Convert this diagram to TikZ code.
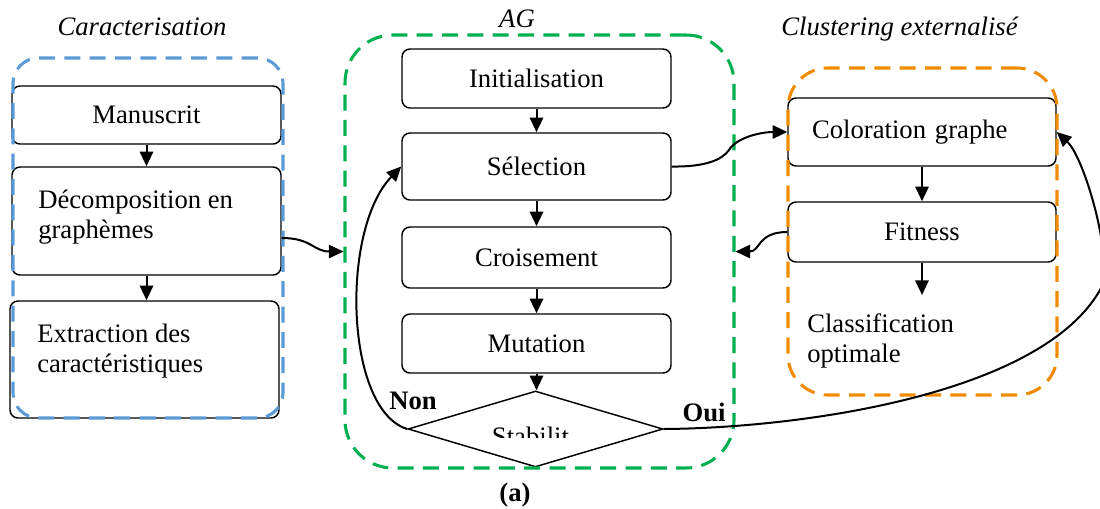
\documentclass[tikz,border=0pt]{standalone}
\usepackage{fontspec}
\setmainfont{Liberation Serif}
\usetikzlibrary{shapes.geometric,arrows.meta}
\definecolor{blueG}{HTML}{5B9BD5}
\definecolor{greenG}{HTML}{00B050}
\definecolor{orangeG}{HTML}{F08A00}
\begin{document}
\begin{tikzpicture}[x=0.75pt,y=-0.75pt,
  font=\fontsize{20pt}{22.5pt}\selectfont,
  sz/.style 2 args={minimum width=#1*0.75pt,minimum height=#2*0.75pt},
  box/.style={draw,line width=1.1pt,rounded corners=6pt,inner sep=0pt},
  conn/.style={line width=1.5pt,-{Triangle[length=11pt,width=10pt]}},
  grp/.style={line width=2.3pt,dash pattern=on 12pt off 7pt,inner sep=0pt},
  txt/.style={inner sep=0pt},
  ]
\clip (0,0) rectangle (1100,508);
% titles
\node[txt,anchor=base] (t1) at (142,35) {\textit{Caracterisation}};
\node[txt,anchor=base] (t2) at (517,27) {\textit{AG}};
\node[txt,anchor=base] (t3) at (900,35) {\textit{Clustering externalisé}};
% left column
\node[box,sz={269}{58}] (man) at (146.5,115) {Manuscrit};
\node[box,sz={269}{108}] (dec) at (146.5,221) {};
\node[txt,anchor=west,align=left] (decT) at (38,217) {Décomposition en\\graphèmes};
\node[box,sz={269}{117}] (ext) at (144.5,359.5) {};
\node[txt,anchor=west,align=left] (extT) at (37,351) {Extraction des\\caractéristiques};
% middle column
\node[box,sz={269}{59}] (init) at (536.5,78.5) {Initialisation};
\node[box,sz={269}{67}] (sel) at (536.5,166.5) {Sélection};
\node[box,sz={269}{61}] (cro) at (536.5,257.5) {Croisement};
\node[box,sz={269}{59}] (mut) at (536.5,343.5) {Mutation};
\node[draw,diamond,line width=1.1pt,inner sep=0pt,sz={255}{76}] (stab) at (535.5,429) {};
\begin{scope}
\clip (470,420) rectangle (600,437);
\node[txt,anchor=base] (stabT) at (530.5,445.5) {Stabilit};
\end{scope}
\node[txt,anchor=base] (non) at (413,409) {\textbf{Non}};
\node[txt,anchor=base] (oui) at (704,421) {\textbf{Oui}};
\node[txt,anchor=base] (cap) at (515,501) {\textbf{(a)}};
% right column
\node[box,sz={268}{68},align=left,text width=220*0.75pt,inner xsep=24*0.75pt] (col) at (922,132) {Coloration graphe};
\node[box,sz={268}{60}] (fit) at (922,232) {Fitness};
\node[txt,anchor=west,align=left] (cls) at (807,341) {Classification\\optimale};
\coordinate (clsin) at (922,295);
% groups
\node[grp,draw=blueG,rounded corners=19pt,sz={270}{360}] (G1) at (148,238) {};
\node[grp,draw=greenG,rounded corners=36pt,sz={389}{433}] (G2) at (539.5,251.5) {};
\node[grp,draw=orangeG,rounded corners=30pt,sz={269}{327}] (G3) at (922.5,231.5) {};
% connectors
\draw[conn] (man) -- (dec);
\draw[conn] (dec) -- (dec |- ext.north);
\draw[conn] (init) -- (sel);
\draw[conn] (sel) -- (cro);
\draw[conn] (cro) -- (mut);
\draw[conn] (mut.south) -- (mut.south |- stab.north);
\draw[conn] (col) -- (fit);
\draw[conn] (fit) -- (clsin);
\draw[conn] ([yshift=-12.75pt]dec.east) .. controls +(30,0) and +(-30,0) .. (G2.west);
\draw[conn] (fit.west) .. controls +(-30,0) and +(25,0) .. (G2.east);
\draw[conn] (sel.east) .. controls (705,167) and (722,160) .. (729,150)
  .. controls (736,138) and (760,132) .. (col.west);
\draw[conn] (stab.west) .. controls (345,410) and (340,230) .. (sel.west);
\draw[conn] (stab.east) .. controls (800,428) and (1040,395) .. (1100,290)
  .. controls (1115,264) and (1085,158) .. (col.east);
\end{tikzpicture}
\end{document}
